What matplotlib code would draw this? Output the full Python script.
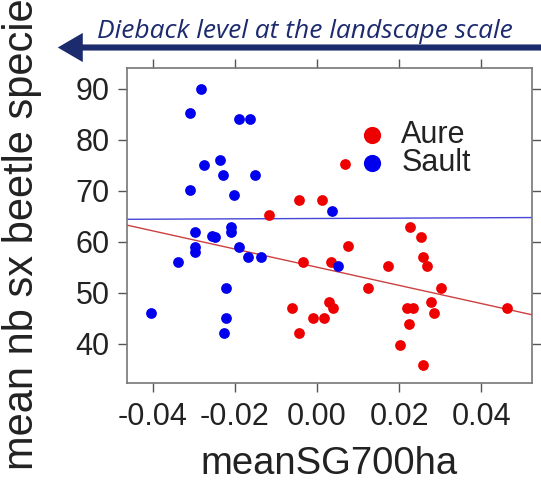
import numpy as np
import matplotlib.pyplot as plt
from matplotlib.patches import FancyArrowPatch

# Aure site: mean SG over 700 ha vs mean number of saproxylic beetle species
aure_x = [-0.0118, -0.0043, 0.0013, 0.0069, 0.0075, -0.0035, 0.0034, 0.0227,
          0.0253, 0.0259, 0.0268, 0.0172, 0.0124, 0.0302, 0.0030, 0.0040,
          -0.0009, 0.0018, -0.0061, -0.0045, 0.0219, 0.0233, 0.0277, 0.0284,
          0.0225, 0.0202, 0.0259, 0.0464]
aure_y = [65.2, 68.3, 68.2, 75.2, 59.3, 56.1, 56.1, 63.0,
          61.0, 57.1, 55.2, 55.2, 50.9, 50.9, 48.2, 47.0,
          45.0, 45.0, 47.0, 42.1, 47.0, 47.0, 48.2, 46.0,
          44.0, 39.8, 35.9, 47.0]

# Sault site
sault_x = [-0.0283, -0.0309, -0.0191, -0.0163, -0.0237, -0.0275, -0.0229,
           -0.0152, -0.0309, -0.0202, -0.0297, -0.0256, -0.0248, -0.0209,
           -0.0209, -0.0297, -0.0297, -0.0191, -0.0167, -0.0137, -0.0339,
           -0.0223, -0.0404, -0.0223, -0.0226, 0.0037, 0.0050]
sault_y = [90.0, 85.2, 84.2, 84.2, 76.1, 75.1, 73.1,
           73.1, 70.1, 69.2, 62.0, 61.2, 61.0, 63.0,
           62.0, 59.1, 58.1, 59.1, 57.1, 57.1, 56.1,
           50.9, 46.0, 45.0, 42.1, 66.1, 55.2]

# linear fits (intercept, slope) for each site
aure_fit = (55.05, -178.0)
sault_fit = (64.6, 3.5)

x_ticks = [-0.04, -0.02, 0.00, 0.02, 0.04]
y_ticks = [40, 50, 60, 70, 80, 90]

plt.rcParams['font.family'] = ['Liberation Sans', 'DejaVu Sans']

fig = plt.figure(figsize=(5.41, 4.84), dpi=100)
ax = fig.add_axes([0.2348, 0.2087, 0.9834 - 0.2348, 0.8595 - 0.2087])

xlim = (-0.0463, 0.0524)
ylim = (32.35, 94.1)

xx = np.array(xlim)
ax.plot(xx, aure_fit[0] + aure_fit[1] * xx, color='#cc4040', lw=1.0, zorder=1)
ax.plot(xx, sault_fit[0] + sault_fit[1] * xx, color='#4646d8', lw=1.0, zorder=1)

ax.scatter(aure_x, aure_y, s=60, color='#ee0000', linewidths=0, zorder=3, label='Aure')
ax.scatter(sault_x, sault_y, s=60, color='#0000ee', linewidths=0, zorder=3, label='Sault')

ax.set_xlim(*xlim)
ax.set_ylim(*ylim)
ax.set_xticks(x_ticks)
ax.set_xticklabels([f'{v:.2f}' for v in x_ticks])
ax.set_yticks(y_ticks)
ax.tick_params(axis='both', which='both', direction='out', length=6.5, width=1,
               color='#555555', labelcolor='#222222', labelsize=22, top=True,
               right=True, labeltop=False, labelright=False)
ax.tick_params(axis='y', pad=6)
ax.tick_params(axis='x', pad=7)
for sp in ax.spines.values():
    sp.set_color('#777777')
    sp.set_linewidth(1.2)

ax.set_xlabel('meanSG700ha', fontsize=27.5, labelpad=10, color='#222222')

leg = ax.legend(loc='upper left', bbox_to_anchor=(0.53, 0.875), frameon=False,
                fontsize=22, markerscale=1.6, handletextpad=0.35,
                labelspacing=-0.05, borderaxespad=0, handlelength=1.2)
for t in leg.get_texts():
    t.set_color('#222222')

# y label runs off the top of the figure
fig.text(22 / 541, 1 - 470 / 484, 'mean nb sx beetle species', fontsize=30,
         color='#222222', rotation=90, rotation_mode='anchor', ha='left', va='center')

# arrow + caption across the top
fig.patches.append(FancyArrowPatch(
    (1.02, 1 - 47.5 / 484), (55 / 541, 1 - 47.5 / 484),
    transform=fig.transFigure,
    arrowstyle='simple,head_length=0.9,head_width=1.05,tail_width=0.22',
    mutation_scale=20, color='#1c2a6e', lw=0))
fig.text(97 / 541, 1 - 38 / 484, 'Dieback level at the landscape scale',
         fontsize=19, style='italic', color='#1c2a6e',
         family=['Open Sans', 'DejaVu Sans'], ha='left', va='baseline')

fig.savefig('out.png', dpi=100)
